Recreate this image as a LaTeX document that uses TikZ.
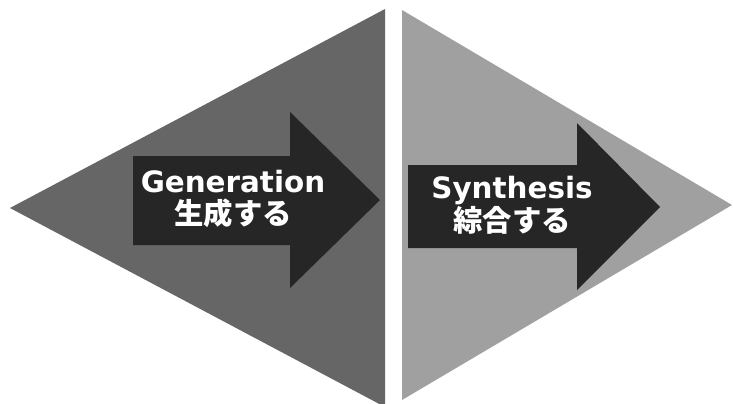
\documentclass[tikz,border=0pt]{standalone}
\usepackage{fontspec}
\setmainfont{DejaVu Sans}
\newfontfamily\jp{Noto Sans CJK JP}
\definecolor{leftgray}{HTML}{666666}
\definecolor{rightgray}{HTML}{A0A0A0}
\definecolor{arrowdark}{HTML}{262626}
\tikzset{
  lbl/.style={text=white, font=\bfseries\fontsize{29.5}{34}\selectfont, align=center, inner sep=0pt},
}
\begin{document}
\begin{tikzpicture}[x=1bp,y=-1bp]
\useasboundingbox (0,0) rectangle (733,403);
\clip (0,0) rectangle (733,403);
\fill[white] (0,0) rectangle (733,403);
% left triangle
\fill[leftgray] (10,208) -- (385,9) -- (385,407) -- cycle;
% right triangle
\fill[rightgray] (402,10) -- (732,205) -- (402,400) -- cycle;
% left arrow
\fill[arrowdark] (133,156) -- (290,156) -- (290,112) -- (380,200) -- (290,288) -- (290,245) -- (133,245) -- cycle;
% right arrow
\fill[arrowdark] (408,165) -- (577,165) -- (577,123) -- (660,207) -- (577,290) -- (577,248) -- (408,248) -- cycle;
\node[lbl] (gen) at (233,199) {Generation\\[-1pt]{\jp 生成する}};
\node[lbl] (syn) at (512,205) {Synthesis\\[-1pt]{\jp 綜合する}};
\end{tikzpicture}
\end{document}
